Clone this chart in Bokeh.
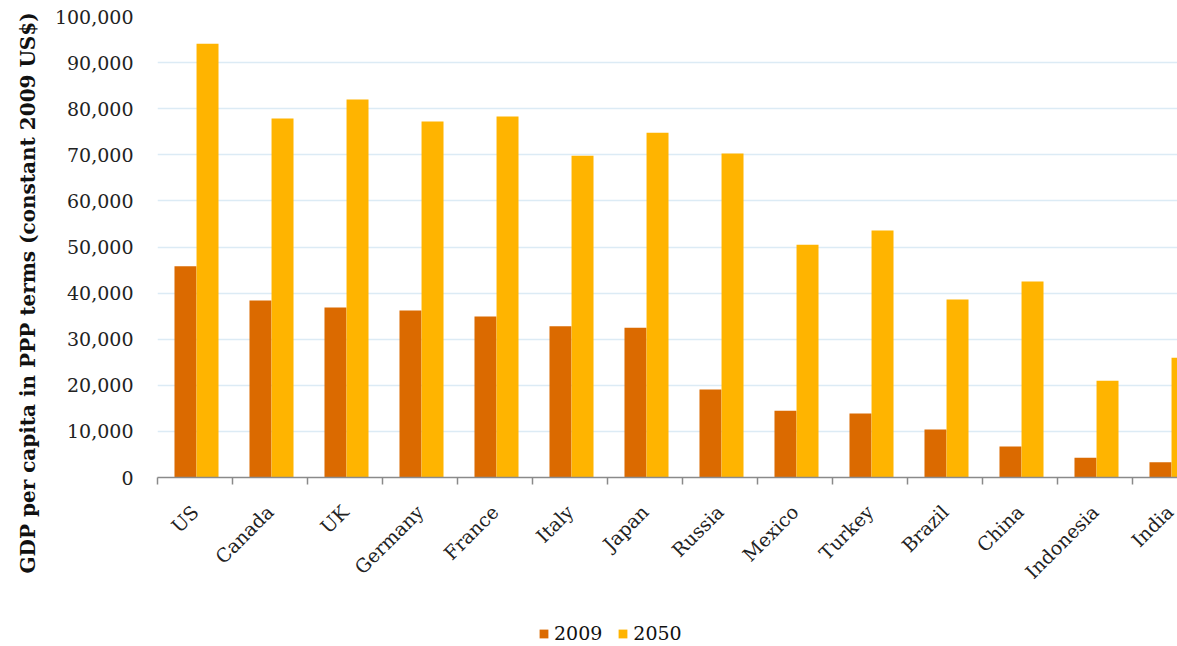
import math
from bokeh.plotting import figure
from bokeh.layouts import column
from bokeh.models import (Range1d, FixedTicker, NumeralTickFormatter, Legend,
                          LegendItem, ColumnDataSource, Title)
from bokeh.transform import dodge
from bokeh.embed import file_html
from bokeh.resources import INLINE

countries = ["US", "Canada", "UK", "Germany", "France", "Italy", "Japan",
             "Russia", "Mexico", "Turkey", "Brazil", "China", "Indonesia", "India"]
gdp_2009 = [45800, 38400, 36900, 36200, 34900, 32800, 32500,
            19100, 14500, 13900, 10400, 6700, 4300, 3300]
gdp_2050 = [94100, 77900, 82000, 77200, 78300, 69800, 74800,
            70300, 50500, 53600, 38600, 42500, 21000, 26000]
y_ticks = list(range(0, 100001, 10000))
series_labels = ["2009", "2050"]
y_title = "GDP per capita in PPP terms (constant 2009 US$)"

FONT = "DejaVu Serif"
C2009 = "#DB6A00"
C2050 = "#FFB400"
GRID = "#DCEBF5"
AXIS = "#8A8A8A"

idx = list(range(len(countries)))
source = ColumnDataSource(data=dict(x=idx, y2009=gdp_2009, y2050=gdp_2050))

p = figure(width=1177, height=620,
           x_range=Range1d(-0.5, 13.1), y_range=Range1d(0, 100000),
           output_backend="svg", toolbar_location=None,
           min_border_left=157, min_border_right=0, min_border_top=16,
           min_border_bottom=143)
p.outline_line_color = None
p.background_fill_color = "white"

r1 = p.vbar(x=dodge("x", -0.127, range=p.x_range), top="y2009", width=0.293,
            source=source, fill_color=C2009, line_color=None)
r2 = p.vbar(x=dodge("x", 0.167, range=p.x_range), top="y2050", width=0.293,
            source=source, fill_color=C2050, line_color=None)

# y axis
yax = p.yaxis[0]
yax.ticker = FixedTicker(ticks=y_ticks)
yax.formatter = NumeralTickFormatter(format="0,0")
yax.axis_line_color = None
yax.major_tick_line_color = None
yax.minor_tick_line_color = None
yax.major_tick_out = 0
yax.major_tick_in = 0
yax.major_label_standoff = 24
yax.major_label_text_font = FONT
yax.major_label_text_font_size = "19px"
yax.major_label_text_color = "#222222"

ttl = Title(text=y_title, align="left", offset=-96, standoff=23,
            text_font=FONT, text_font_style="bold", text_font_size="20px",
            text_color="#111111")
p.add_layout(ttl, "left")

# x axis
xax = p.xaxis[0]
xax.ticker = FixedTicker(ticks=idx, minor_ticks=[i - 0.5 for i in range(len(countries) + 1)])
xax.major_label_overrides = {i: c for i, c in enumerate(countries)}
xax.major_label_orientation = math.pi / 4
xax.major_tick_line_color = None
xax.major_tick_out = 0
xax.major_tick_in = 0
xax.minor_tick_line_color = AXIS
xax.minor_tick_line_width = 1.5
xax.minor_tick_out = 7
xax.minor_tick_in = 0
xax.axis_line_color = AXIS
xax.axis_line_width = 1.5
xax.major_label_standoff = 24
xax.major_label_text_font = FONT
xax.major_label_text_font_size = "19px"
xax.major_label_text_color = "#222222"

p.xgrid.grid_line_color = None
p.ygrid.ticker = FixedTicker(ticks=y_ticks)
p.ygrid.grid_line_color = GRID
p.ygrid.grid_line_width = 1.5

# legend strip below the chart
p2 = figure(width=1177, height=26, x_range=Range1d(0, 1), y_range=Range1d(0, 1),
            output_backend="svg", toolbar_location=None,
            x_axis_location=None, y_axis_location=None,
            min_border=0, min_border_left=0, min_border_right=0,
            min_border_top=0, min_border_bottom=0)
p2.outline_line_color = None
p2.xgrid.grid_line_color = None
p2.ygrid.grid_line_color = None
l1 = p2.vbar(x="x", top="y2009", width=0.293, source=source,
             fill_color=C2009, line_color=None, visible=False)
l2 = p2.vbar(x="x", top="y2050", width=0.293, source=source,
             fill_color=C2050, line_color=None, visible=False)

legend = Legend(items=[LegendItem(label=series_labels[0], renderers=[l1]),
                       LegendItem(label=series_labels[1], renderers=[l2])],
                orientation="horizontal", location=(381, 2))
legend.label_text_font = FONT
legend.label_text_font_size = "19px"
legend.label_text_color = "#111111"
legend.glyph_width = 11
legend.glyph_height = 11
legend.label_standoff = 5
legend.spacing = 15
legend.border_line_color = None
legend.background_fill_alpha = 0
legend.inactive_fill_alpha = 0
legend.padding = 0
legend.margin = 0
p2.add_layout(legend, "center")

layout = column(p, p2, spacing=0)
open("out.html", "w").write(file_html(layout, INLINE))
